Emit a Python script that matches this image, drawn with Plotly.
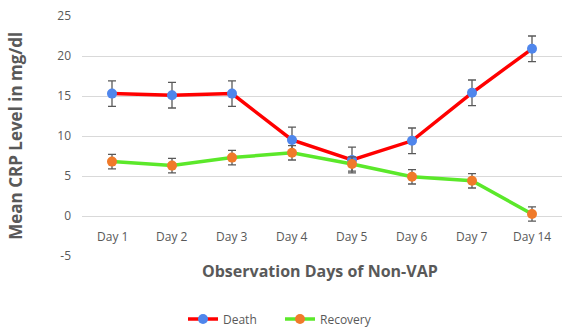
import plotly.graph_objects as go

days = ["Day 1", "Day 2", "Day 3", "Day 4", "Day 5", "Day 6", "Day 7", "Day 14"]
death = [15.3, 15.1, 15.3, 9.5, 7.0, 9.4, 15.4, 20.9]
death_err = [1.6, 1.6, 1.6, 1.6, 1.6, 1.6, 1.6, 1.6]
recovery = [6.8, 6.3, 7.3, 7.9, 6.5, 4.9, 4.4, 0.25]
recovery_err = [0.9, 0.9, 0.9, 0.9, 0.9, 0.9, 0.9, 0.9]
y_ticks = [-5, 0, 5, 10, 15, 20, 25]
y_ticktext = ["-5", "0", "5", "10", "15", "20", "25"]

FONT = "Open Sans"
GREY = "#595959"
PLOT_TOP, PLOT_H = 16, 240

fig = go.Figure()
fig.add_trace(go.Scatter(
    x=days, y=death, name="Death", mode="lines+markers",
    line=dict(color="#FF0000", width=3.5),
    marker=dict(color="#4F86EC", size=10),
    error_y=dict(type="data", array=death_err, color=GREY, thickness=1.3, width=4),
))
fig.add_trace(go.Scatter(
    x=days, y=recovery, name="Recovery", mode="lines+markers",
    line=dict(color="#5BE82A", width=3.5),
    marker=dict(color="#F07A2A", size=10),
    error_y=dict(type="data", array=recovery_err, color=GREY, thickness=1.3, width=4),
))

for d in days:
    fig.add_annotation(x=d, y=-2.5, xref="x", yref="y", text=d, showarrow=False,
                       font=dict(family=FONT, size=12, color=GREY))

fig.add_annotation(x=0.495, y=(PLOT_TOP + PLOT_H - 271) / PLOT_H, xref="paper", yref="paper",
                   yanchor="middle",
                   text="<b>Observation Days of Non-VAP</b>", showarrow=False,
                   font=dict(family=FONT, size=16, color=GREY))
fig.add_annotation(x=-0.14, y=0.5, xref="paper", yref="paper", textangle=-90,
                   xanchor="center", yanchor="middle",
                   text="<b>Mean CRP Level in mg/dl</b>", showarrow=False,
                   font=dict(family=FONT, size=17, color=GREY))

fig.update_layout(
    width=569, height=334,
    margin=dict(l=82, r=7, t=16, b=78, autoexpand=False),
    plot_bgcolor="white", paper_bgcolor="white",
    font=dict(family=FONT, color=GREY),
    showlegend=True,
    legend=dict(orientation="h", x=0.4125, xanchor="center", yref="container",
                y=1 - 319 / 334, yanchor="middle", entrywidth=52,
                font=dict(family=FONT, size=12, color=GREY)),
    xaxis=dict(showticklabels=False, showgrid=False, zeroline=False, showline=False,
               range=[-0.5, 7.5]),
    yaxis=dict(range=[-5, 25], tickvals=y_ticks, ticktext=y_ticktext, showgrid=True,
               gridcolor="#D9D9D9", gridwidth=1, zeroline=False, showline=False,
               ticklabelstandoff=10,
               tickfont=dict(family=FONT, size=12, color=GREY), ticks="", ticklen=0),
)

fig.write_html("out.html")
